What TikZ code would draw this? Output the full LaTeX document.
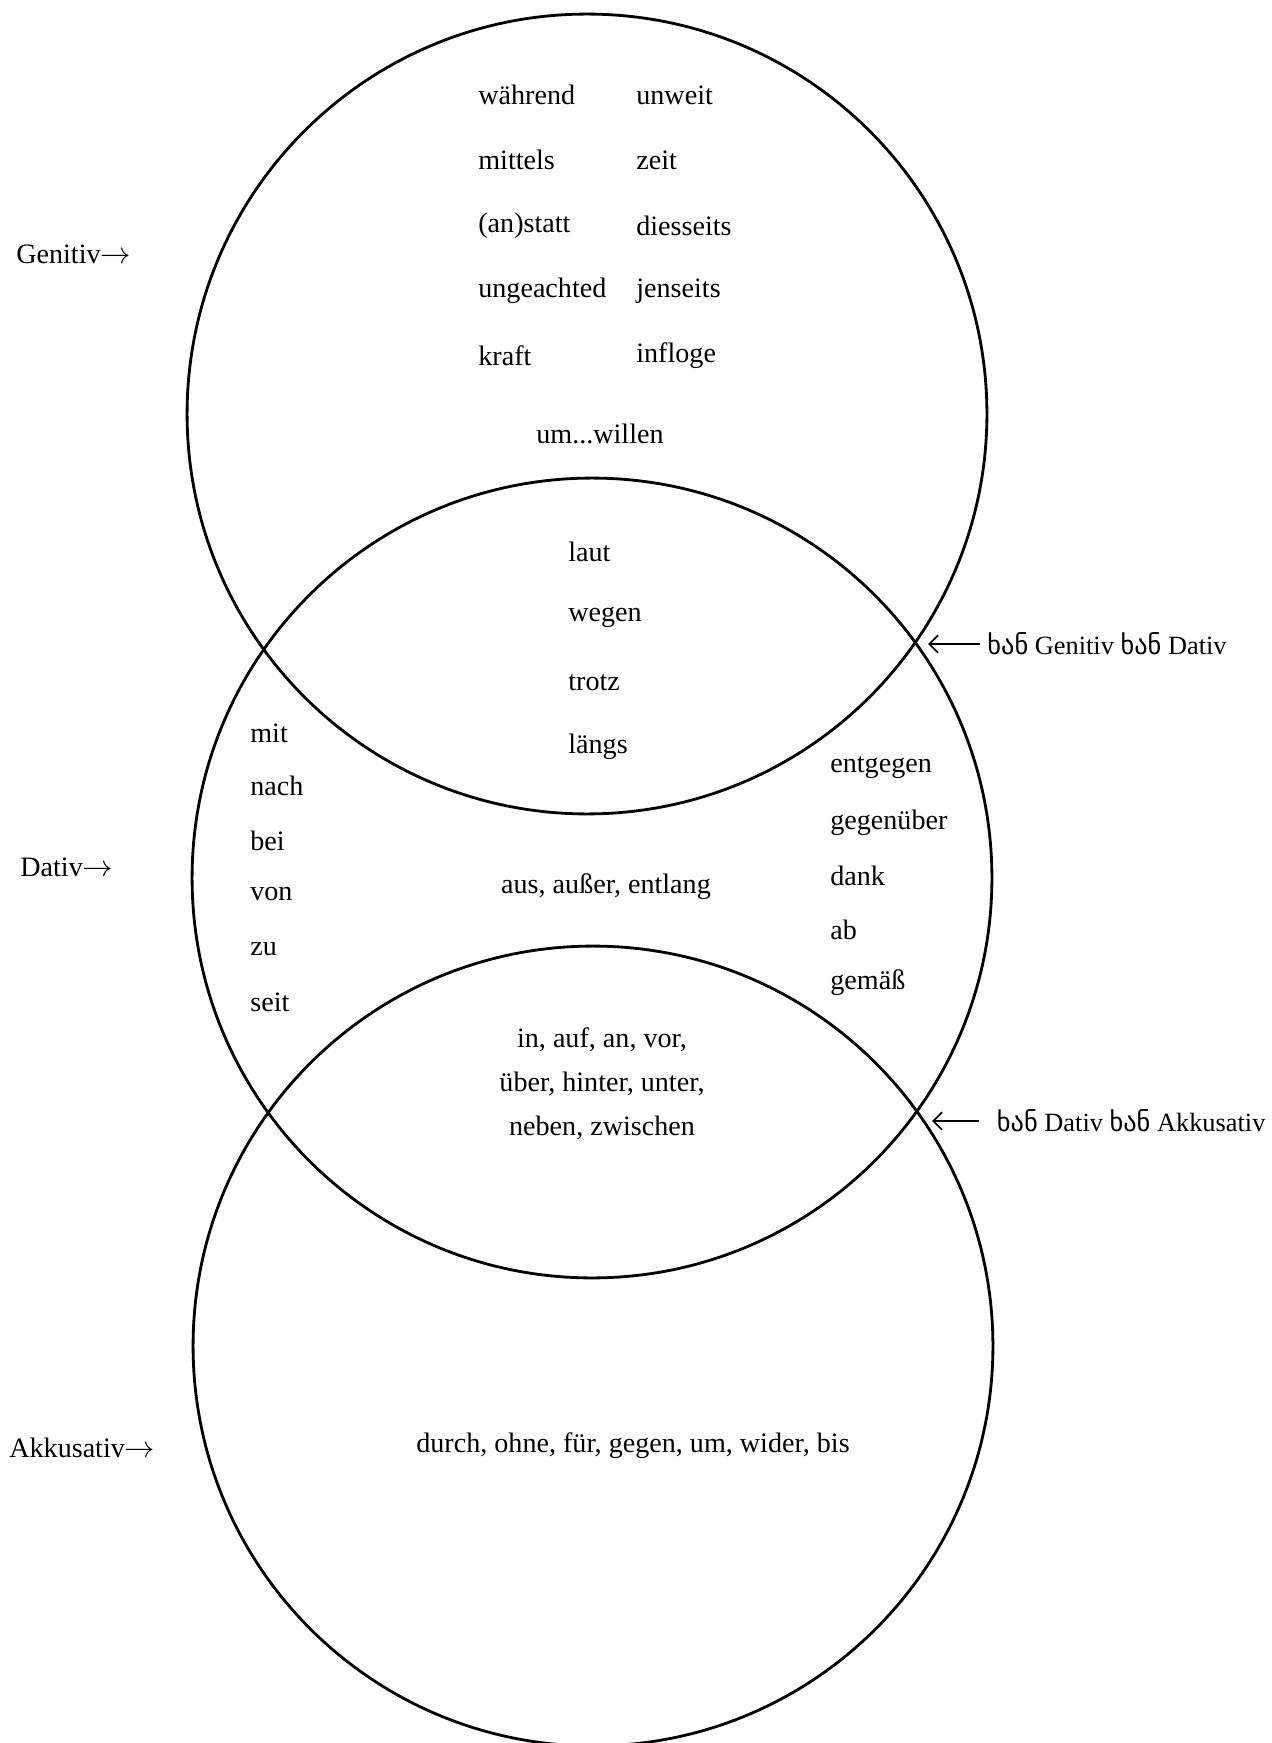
\documentclass[tikz,border=0pt]{standalone}
\usepackage{fontspec}
\setmainfont{Liberation Serif}
\newfontfamily\georgfont[Script=Georgian]{DejaVu Sans}
\usetikzlibrary{positioning, arrows.meta}

\begin{document}
\begin{tikzpicture}[x=0.02cm, y=-0.02cm, >={Straight Barb[length=5pt, width=10pt]},
    every node/.style={font=\fontsize{16}{25}\selectfont, inner sep=0pt},
    kreis/.style={draw, circle, line width=1.6pt, minimum size=16cm},
    wort/.style={anchor=west},
    mitte/.style={align=center},
    beide/.style={anchor=west, font=\fontsize{15}{18}\selectfont}]
    \useasboundingbox (0,0) rectangle (1271,1743);

    % the three cases
    \node[kreis] (gen) at (587,414)  {};
    \node[kreis] (dat) at (592,878)  {};
    \node[kreis] (akk) at (593,1346) {};

    % genitive only
    \node[wort] (waehrend) at (478,95)  {während};
    \node[wort] (mittels)  at (478,160) {mittels};
    \node[wort] (anstatt)  at (478,226) {(an)statt};
    \node[wort] (ungeacht) at (478,291) {ungeachted};
    \node[wort] (kraft)    at (478,356) {kraft};
    \node[wort] (unweit)   at (636,95)  {unweit};
    \node[wort] (zeit)     at (636,160) {zeit};
    \node[wort] (diesseit) at (636,226) {diesseits};
    \node[wort] (jenseit)  at (636,291) {jenseits};
    \node[wort] (infloge)  at (636,356) {infloge};
    \node[mitte] (umwillen) at (600,434) {um...willen};

    % genitive and dative
    \node[wort] (laut)  at (568,552) {laut};
    \node[wort] (wegen) at (568,617) {wegen};
    \node[wort] (trotz) at (568,683) {trotz};
    \node[wort] (laengs) at (568,747) {längs};

    % dative only
    \node[wort] (mit)  at (250,733)  {mit};
    \node[wort] (nach) at (250,786)  {nach};
    \node[wort] (bei)  at (250,841)  {bei};
    \node[wort] (von)  at (250,894)  {von};
    \node[wort] (zu)   at (250,949)  {zu};
    \node[wort] (seit) at (250,1002) {seit};
    \node[wort] (entgegen)  at (830,768) {entgegen};
    \node[wort] (gegenueber) at (830,823) {gegenüber};
    \node[wort] (dank)  at (830,876) {dank};
    \node[wort] (ab)    at (830,930) {ab};
    \node[wort] (gemaess) at (830,983) {gemäß};
    \node[mitte] (aus) at (606,887) {aus, außer, entlang};

    % dative and accusative
    \node[mitte] (wechsel) at (602,1084) {in, auf, an, vor,\\ über, hinter, unter,\\ neben, zwischen};

    % accusative only
    \node[mitte] (durch) at (633,1446) {durch, ohne, für, gegen, um, wider, bis};

    % case names
    \node[wort] (genname) at (16,254)  {Genitiv$\rightarrow$};
    \node[wort] (datname) at (20,867)  {Dativ$\rightarrow$};
    \node[wort] (akkname) at (9,1448)  {Akkusativ$\rightarrow$};

    % sometimes one, sometimes the other
    \coordinate (gdpunkt) at (928,644);
    \coordinate (dapunkt) at (932,1121);
    \node[beide, inner xsep=4pt] (gdname) at (980,644)
        {{\georgfont ხან} Genitiv {\georgfont ხან} Dativ};
    \node[beide, inner xsep=10pt] (daname) at (979,1121)
        {{\georgfont ხან} Dativ {\georgfont ხან} Akkusativ};
    \draw[->, line width=1pt] (gdname.west) -- (gdpunkt);
    \draw[->, line width=1pt] (daname.west) -- (dapunkt);
\end{tikzpicture}
\end{document}
